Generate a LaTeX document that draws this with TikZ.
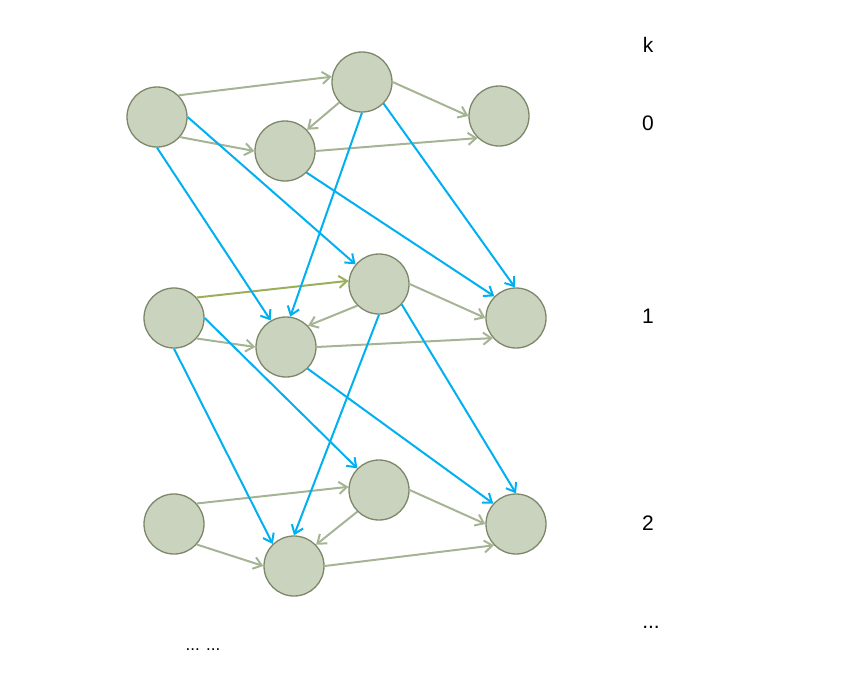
\documentclass[tikz,border=0pt]{standalone}
\usepackage{fontspec}
\setmainfont{Liberation Sans}
\usetikzlibrary{arrows.meta}
\definecolor{nodefill}{HTML}{CAD3BD}
\definecolor{nodeline}{HTML}{7D8769}
\definecolor{greyedge}{HTML}{A5B494}
\definecolor{oliveedge}{HTML}{9BAF5A}
\definecolor{blueedge}{HTML}{00B0F0}
\tikzset{
  state/.style={circle, draw=nodeline, fill=nodefill, line width=1.3pt, minimum size=60pt, inner sep=0pt},
  gedge/.style={draw=greyedge, line width=2pt, -{Straight Barb[length=8pt,width=12pt]}},
  oedge/.style={draw=oliveedge, line width=2pt, -{Straight Barb[length=8pt,width=12pt]}},
  bedge/.style={draw=blueedge, line width=2pt, -{Straight Barb[length=8pt,width=12pt]}},
  lab/.style={font=\fontsize{21}{25}\selectfont, inner sep=0pt}
}
\begin{document}
\begin{tikzpicture}[x=1pt,y=-1pt]
\useasboundingbox (0,0) rectangle (852,694);
% level 0
\node[state] (A0) at (157,117) {};
\node[state] (B0) at (362,82) {};
\node[state] (C0) at (285,151) {};
\node[state] (D0) at (499,116) {};
% level 1
\node[state] (A1) at (174,318) {};
\node[state] (B1) at (379,284) {};
\node[state] (C1) at (286,347) {};
\node[state] (D1) at (516,318) {};
% level 2
\node[state] (A2) at (174,524) {};
\node[state] (B2) at (379,490) {};
\node[state] (C2) at (294,566) {};
\node[state] (D2) at (516,524) {};
% labels
\node[lab] (lk) at (648,45) {k};
\node[lab] (l0) at (648,123) {0};
\node[lab] (l1) at (648,316) {1};
\node[lab] (l2) at (648,523) {2};
\node[lab] (ld) at (651,627) {...};
\node[inner sep=0pt, font=\fontsize{17}{20}\selectfont] (ldd) at (203,650) {... ...};
% level 0 edges
\draw[gedge] (A0.45) -- (B0.170);
\draw[gedge] (A0.-41) -- (C0.180);
\draw[gedge] (B0.222) -- (C0.44);
\draw[gedge] (B0.0) -- (D0.180);
\draw[gedge] (C0.0) -- (D0.226);
% level 1 edges
\draw[oedge] (A1.42) -- (B1.174);
\draw[gedge] (A1.-42) -- (C1.180);
\draw[gedge] (B1.225) -- (C1.44);
\draw[gedge] (B1.0) -- (D1.180);
\draw[gedge] (C1.0) -- (D1.221);
% level 2 edges
\draw[gedge] (A2.42) -- (B2.174);
\draw[gedge] (A2.-42) -- (C2.180);
\draw[gedge] (B2.225) -- (C2.44);
\draw[gedge] (B2.0) -- (D2.180);
\draw[gedge] (C2.0) -- (D2.224);
% blue edges 0 -> 1
\draw[bedge] (A0.south) -- (C1.120);
\draw[bedge] (A0.east) -- (B1.140);
\draw[bedge] (B0.south) -- (C1.82);
\draw[bedge] (B0.-45) -- (D1.92);
\draw[bedge] (C0.-45) -- (D1.135);
% blue edges 1 -> 2
\draw[bedge] (A1.south) -- (C2.134);
\draw[bedge] (A1.east) -- (B2.135);
\draw[bedge] (B1.south) -- (C2.north);
\draw[bedge] (B1.-42) -- (D2.north);
\draw[bedge] (C1.-45) -- (D2.138);
\end{tikzpicture}
\end{document}
